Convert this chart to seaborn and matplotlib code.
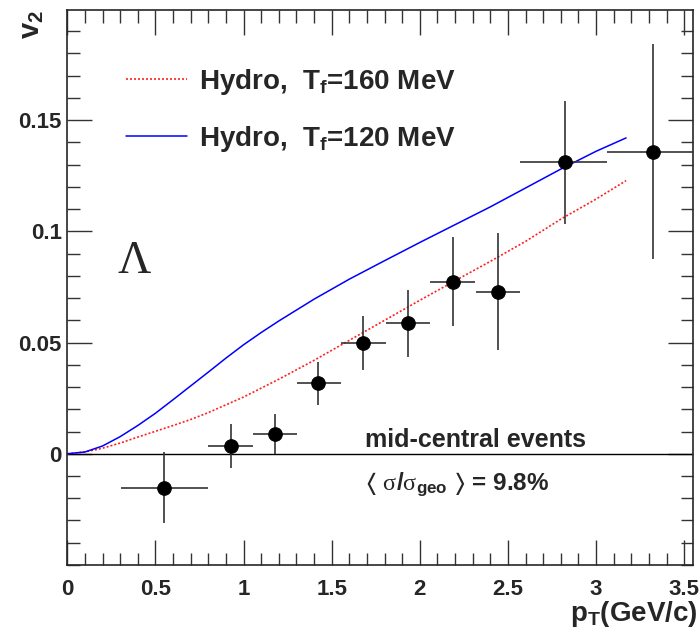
import numpy as np
import pandas as pd
import seaborn as sns
import matplotlib
matplotlib.use('Agg')
import matplotlib.pyplot as plt
from matplotlib.ticker import MultipleLocator, FixedLocator, FormatStrFormatter

# Lambda v2 data points (mean pT, bin edges, v2, stat error)
pt = [0.550, 0.927, 1.178, 1.424, 1.679, 1.934, 2.188, 2.443, 2.823, 3.323]
pt_lo = [0.305, 0.800, 1.052, 1.301, 1.554, 1.808, 2.060, 2.318, 2.571, 3.063]
pt_hi = [0.796, 1.052, 1.301, 1.554, 1.808, 2.060, 2.314, 2.569, 3.063, 3.600]
v2 = [-0.0153, 0.0036, 0.0089, 0.0316, 0.0498, 0.0586, 0.0774, 0.0729, 0.1311, 0.1358]
v2_err = [0.0160, 0.0100, 0.0090, 0.0098, 0.0120, 0.0152, 0.0200, 0.0262, 0.0276, 0.0484]

# hydro curves
hydro_pt = [0, 0.1, 0.2, 0.3, 0.4, 0.5, 0.6, 0.7, 0.8, 0.9, 1.0, 1.1, 1.2, 1.4, 1.6,
            1.8, 2.0, 2.2, 2.4, 2.6, 2.8, 3.0, 3.17]
hydro_160 = [0, 0.0008, 0.0025, 0.0048, 0.0075, 0.0101, 0.0127, 0.0154, 0.0185, 0.0220,
             0.0255, 0.0295, 0.0335, 0.0420, 0.0510, 0.0600, 0.0690, 0.0778, 0.0865,
             0.0955, 0.1055, 0.1145, 0.1228]
hydro_120 = [0, 0.0008, 0.0035, 0.0077, 0.0127, 0.0182, 0.0243, 0.0305, 0.0367, 0.0430,
             0.0490, 0.0545, 0.0597, 0.0695, 0.0785, 0.0868, 0.0950, 0.1030, 0.1110,
             0.1195, 0.1280, 0.1360, 0.1420]

sns.set_style('ticks')
plt.rcParams['font.family'] = ['Liberation Sans', 'DejaVu Sans']
plt.rcParams['font.weight'] = 'bold'
plt.rcParams['mathtext.fontset'] = 'custom'
plt.rcParams['mathtext.default'] = 'it'
plt.rcParams['mathtext.it'] = 'Liberation Sans:bold'
plt.rcParams['mathtext.bf'] = 'Liberation Sans:bold'
plt.rcParams['mathtext.rm'] = 'Liberation Serif:weight=normal'
plt.rcParams['mathtext.fallback'] = 'stix'

fig = plt.figure(figsize=(7, 6.3), dpi=100)
ax = fig.add_axes([0.0961, 0.1032, 0.8935, 0.8809])

curves = pd.DataFrame({'pt': hydro_pt, 'v160': hydro_160, 'v120': hydro_120})
sns.lineplot(data=curves, x='pt', y='v160', ax=ax, color='#ff2020', lw=1.2,
             linestyle=(0, (1.2, 1.2)), label=r'Hydro,  T$_{f}$=160 MeV')
sns.lineplot(data=curves, x='pt', y='v120', ax=ax, color='#0000ff', lw=1.1,
             label=r'Hydro,  T$_{f}$=120 MeV')

ax.axhline(0, color='black', lw=1.0, zorder=1)

xerr = [np.array(pt) - np.array(pt_lo), np.array(pt_hi) - np.array(pt)]
ax.errorbar(pt, v2, yerr=v2_err, xerr=xerr, fmt='none', ecolor='#333333',
            elinewidth=1.2, capsize=0, zorder=3)
sns.scatterplot(x=pt, y=v2, ax=ax, color='black', edgecolor='black', s=95,
                zorder=4, legend=False)

ax.set_xlim(0, 3.548)
ax.set_ylim(-0.05, 0.1995)
ax.xaxis.set_major_locator(MultipleLocator(0.5))
ax.xaxis.set_minor_locator(MultipleLocator(0.1))
ax.yaxis.set_major_locator(FixedLocator([0, 0.05, 0.1, 0.15]))
ax.yaxis.set_minor_locator(FixedLocator(np.arange(-0.05, 0.2, 0.01)))
ax.xaxis.set_major_formatter(FormatStrFormatter('%g'))
ax.yaxis.set_major_formatter(FormatStrFormatter('%g'))
ax.tick_params(which='both', direction='in', top=True, right=True, width=1, color='#333333')
ax.tick_params(which='major', length=18, labelsize=16)
ax.tick_params(which='minor', length=9)
ax.tick_params(axis='x', which='major', pad=10)
ax.tick_params(axis='y', which='major', pad=4)
for s in ax.spines.values():
    s.set_linewidth(1.2)
ax.set_xlabel('')
ax.set_ylabel('')

leg = ax.legend(loc='upper left', bbox_to_anchor=(0.0939, 0.897), frameon=False,
                fontsize=20, handlelength=2.2, handletextpad=0.42, labelspacing=0.95,
                borderpad=0, borderaxespad=0)

ax.text(0.378, 0.0865, 'Λ', family=['Liberation Serif', 'DejaVu Serif'], weight='normal',
        fontsize=33, ha='center', va='center')
ax.text(1.689, 0.0031, 'mid-central events', fontsize=18, ha='left', va='baseline')
ax.text(1.689, -0.0163,
        r'$\langle\ \mathrm{\sigma}$/$\mathrm{\sigma}_{geo}\ \rangle$ = 9.8%',
        fontsize=17.5, ha='left', va='baseline')

fig.text(0.997, 0.015, r'p$_{T}$(GeV/c)', fontsize=20, ha='right', va='baseline')
fig.text(0.046, 0.984, r'v$_{\mathbf{2}}$', fontsize=21, rotation=90, ha='center', va='top')

fig.savefig('out.png', dpi=100)
